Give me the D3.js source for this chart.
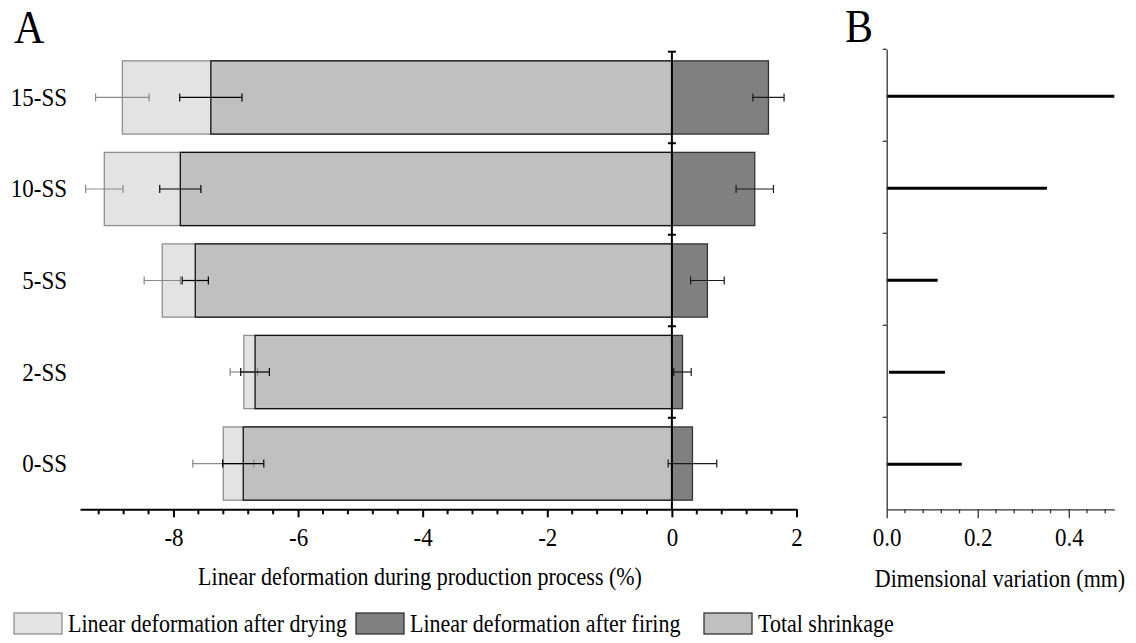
<!DOCTYPE html>
<html>
<head>
<meta charset="utf-8">
<script src="https://cdn.jsdelivr.net/npm/d3@7"></script>
<style>
  body { margin: 0; background: #fff; }
  text { font-family: "Liberation Serif", "Times New Roman", serif; fill: #000; }
</style>
</head>
<body>
<div id="chart"></div>
<script>
// samples, top to bottom
let categories = ['15-SS', '10-SS', '5-SS', '2-SS', '0-SS']

// panel A (%)
let drying = [-8.82, -9.11, -8.18, -6.87, -7.20]
let dryingErr = [0.43, 0.30, 0.29, 0.22, 0.49]
let shrinkage = [-7.40, -7.89, -7.65, -6.69, -6.88]
let shrinkageErr = [0.50, 0.33, 0.21, 0.23, 0.33]
let firing = [1.55, 1.33, 0.57, 0.17, 0.33]
let firingErr = [0.25, 0.30, 0.27, 0.14, 0.39]

// panel B (mm)
let variationStart = [0, 0, 0, 0.005, 0]
let variation = [0.50, 0.352, 0.112, 0.128, 0.165]

let ticksA = [-8, -6, -4, -2, 0, 2]
let ticksB = [0, 0.2, 0.4]

let legendLabels = ['Linear deformation after drying', 'Linear deformation after firing', 'Total shrinkage']

let W = 1136, H = 643

let svg = d3.select('#chart')
  .append('svg')
  .attr('width', W)
  .attr('height', H)

// the original figure is a bit stretched vertically
function stretch(sel) {
  sel.each(function () {
    let t = d3.select(this)
    let x = +t.attr('x') || 0, y = +t.attr('y') || 0
    t.attr('x', null).attr('y', null).attr('dy', null)
      .attr('transform', `translate(${x},${y}) scale(1,1.1)`)
  })
}

let rows = categories.map((c, i) => ({
  name: c,
  drying: drying[i], dryingErr: dryingErr[i],
  shrinkage: shrinkage[i], shrinkageErr: shrinkageErr[i],
  firing: firing[i], firingErr: firingErr[i],
  vStart: variationStart[i], v: variation[i]
}))

// ---------- panel A ----------
let xA = d3.scaleLinear().domain([-9.5, 2]).range([80, 796.5])
let yA = d3.scaleBand()
  .domain(categories)
  .range([51.7, 509.3])
  .paddingInner(0.2)
  .paddingOuter(0.1)

let gA = svg.append('g')

function bar(g, key, fill, stroke) {
  g.selectAll('.bar-' + key)
    .data(rows)
    .enter()
    .append('rect')
    .attr('class', 'bar-' + key)
    .attr('x', d => xA(Math.min(0, d[key])))
    .attr('width', d => Math.abs(xA(d[key]) - xA(0)))
    .attr('y', d => yA(d.name))
    .attr('height', yA.bandwidth())
    .style('fill', fill)
    .style('stroke', stroke)
    .style('stroke-width', 1.3)
}

bar(gA, 'drying', '#e3e3e3', '#8f8f8f')
bar(gA, 'shrinkage', '#c0c0c0', '#111')
bar(gA, 'firing', '#808080', '#333')

function errorBars(g, key, color) {
  let e = g.selectAll('.err-' + key)
    .data(rows)
    .enter()
    .append('g')
    .attr('class', 'err-' + key)
    .attr('transform', d => `translate(0,${yA(d.name) + yA.bandwidth() / 2})`)
    .style('stroke', color)
    .style('stroke-width', 1.2)
  e.append('line')
    .attr('x1', d => xA(d[key] - d[key + 'Err']))
    .attr('x2', d => xA(d[key] + d[key + 'Err']))
  e.append('line')
    .attr('x1', d => xA(d[key] - d[key + 'Err']))
    .attr('x2', d => xA(d[key] - d[key + 'Err']))
    .attr('y1', -4).attr('y2', 4)
  e.append('line')
    .attr('x1', d => xA(d[key] + d[key + 'Err']))
    .attr('x2', d => xA(d[key] + d[key + 'Err']))
    .attr('y1', -4).attr('y2', 4)
}

errorBars(gA, 'drying', '#8a8a8a')
errorBars(gA, 'shrinkage', '#000')
errorBars(gA, 'firing', '#1a1a1a')

// zero line with group separators
let zero = gA.append('g').style('stroke', '#000')
zero.append('line')
  .attr('x1', xA(0)).attr('x2', xA(0))
  .attr('y1', yA.range()[0]).attr('y2', yA.range()[1])
  .style('stroke-width', 2)
let bounds = categories.map(c => yA(c) - yA.step() * yA.paddingInner() / 2)
zero.selectAll('.sep')
  .data(bounds)
  .enter()
  .append('line')
  .attr('class', 'sep')
  .attr('x1', xA(0) - 4).attr('x2', xA(0) + 4)
  .attr('y1', d => d).attr('y2', d => d)
  .style('stroke-width', 2)

// category labels
gA.selectAll('.cat')
  .data(categories)
  .enter()
  .append('text')
  .attr('class', 'cat')
  .attr('x', 67)
  .attr('y', d => yA(d) + yA.bandwidth() / 2 + 8.5)
  .attr('text-anchor', 'end')
  .style('font-size', '23px')
  .text(d => d)
  .call(stretch)

// x axis A
let axisA = gA.append('g')
  .attr('transform', `translate(0,${yA.range()[1]})`)
  .call(d3.axisBottom(xA).tickValues(ticksA).tickSize(8).tickSizeOuter(0).tickFormat(d => String(d)))
axisA.select('.domain').style('stroke-width', 2)
axisA.selectAll('.tick line').style('stroke-width', 2)
axisA.selectAll('text')
  .attr('y', 37).attr('dy', null)
  .style('font-size', '23px')
  .style('font-family', '"Liberation Serif", serif')
  .call(stretch)

let minorA = d3.range(-9.2, 2.01, 0.4).filter(v => !ticksA.some(t => Math.abs(t - v) < 1e-6))
axisA.selectAll('.minor')
  .data(minorA)
  .enter()
  .append('line')
  .attr('class', 'minor')
  .attr('x1', d => xA(d)).attr('x2', d => xA(d))
  .attr('y1', 0).attr('y2', 5)
  .style('stroke', '#000')
  .style('stroke-width', 2)

gA.append('text')
  .attr('x', 420)
  .attr('y', 585)
  .attr('text-anchor', 'middle')
  .style('font-size', '22px')
  .text('Linear deformation during production process (%)')
  .call(stretch)

gA.append('text')
  .attr('x', 14)
  .attr('y', 42.7)
  .style('font-size', '42px')
  .text('A')
  .call(stretch)

// ---------- panel B ----------
let xB = d3.scaleLinear().domain([0, 0.5]).range([886.7, 1114.3])
let yB = d3.scaleBand()
  .domain(categories)
  .range([49.3, 509.3])

let gB = svg.append('g')

gB.selectAll('.vbar')
  .data(rows)
  .enter()
  .append('line')
  .attr('class', 'vbar')
  .attr('x1', d => xB(d.vStart))
  .attr('x2', d => xB(d.v))
  .attr('y1', d => yB(d.name) + yB.bandwidth() / 2 + 1)
  .attr('y2', d => yB(d.name) + yB.bandwidth() / 2 + 1)
  .style('stroke', '#000')
  .style('stroke-width', 3)

let axisBy = gB.append('g')
  .attr('transform', `translate(${xB(0)},0)`)
  .call(d3.axisLeft(yB).tickValues([]).tickSizeOuter(0))
axisBy.select('.domain').style('stroke', '#333').style('stroke-width', 1.3)
axisBy.selectAll('.sep')
  .data(categories.map(c => yB(c)))
  .enter()
  .append('line')
  .attr('class', 'sep')
  .attr('x1', -4).attr('x2', 0)
  .attr('y1', d => d).attr('y2', d => d)
  .style('stroke', '#333')
  .style('stroke-width', 1.3)

let axisBx = gB.append('g')
  .attr('transform', `translate(0,${yB.range()[1]})`)
  .call(d3.axisBottom(xB).tickValues(ticksB).tickSize(9).tickSizeOuter(0).tickFormat(d3.format('.1f')))
axisBx.select('.domain').style('stroke', '#333').style('stroke-width', 1.3)
axisBx.selectAll('.tick line').style('stroke', '#333').style('stroke-width', 1.3)
axisBx.selectAll('text')
  .attr('y', 37).attr('dy', null)
  .style('font-size', '23px')
  .style('font-family', '"Liberation Serif", serif')
  .call(stretch)

let minorB = d3.range(0.04, 0.49, 0.04).filter(v => !ticksB.some(t => Math.abs(t - v) < 1e-6))
axisBx.selectAll('.minor')
  .data(minorB)
  .enter()
  .append('line')
  .attr('class', 'minor')
  .attr('x1', d => xB(d)).attr('x2', d => xB(d))
  .attr('y1', 0).attr('y2', 4)
  .style('stroke', '#333')
  .style('stroke-width', 1.3)

gB.append('text')
  .attr('x', 1000)
  .attr('y', 587)
  .attr('text-anchor', 'middle')
  .style('font-size', '22px')
  .text('Dimensional variation (mm)')
  .call(stretch)

gB.append('text')
  .attr('x', 845)
  .attr('y', 41.7)
  .style('font-size', '42px')
  .text('B')
  .call(stretch)

// ---------- legend ----------
let legendX = [14, 356, 704]
let legendFill = ['#e3e3e3', '#808080', '#c0c0c0']
let legendStroke = ['#8f8f8f', '#333', '#333']

let lg = svg.selectAll('.legend')
  .data(legendLabels)
  .enter()
  .append('g')
  .attr('class', 'legend')
  .attr('transform', (d, i) => `translate(${legendX[i]},613)`)

lg.append('rect')
  .attr('width', 48)
  .attr('height', 21)
  .style('fill', (d, i) => legendFill[i])
  .style('stroke', (d, i) => legendStroke[i])
  .style('stroke-width', 1.3)

lg.append('text')
  .attr('x', 54)
  .attr('y', 18.5)
  .style('font-size', '22px')
  .text(d => d)
  .call(stretch)
</script>
</body>
</html>
